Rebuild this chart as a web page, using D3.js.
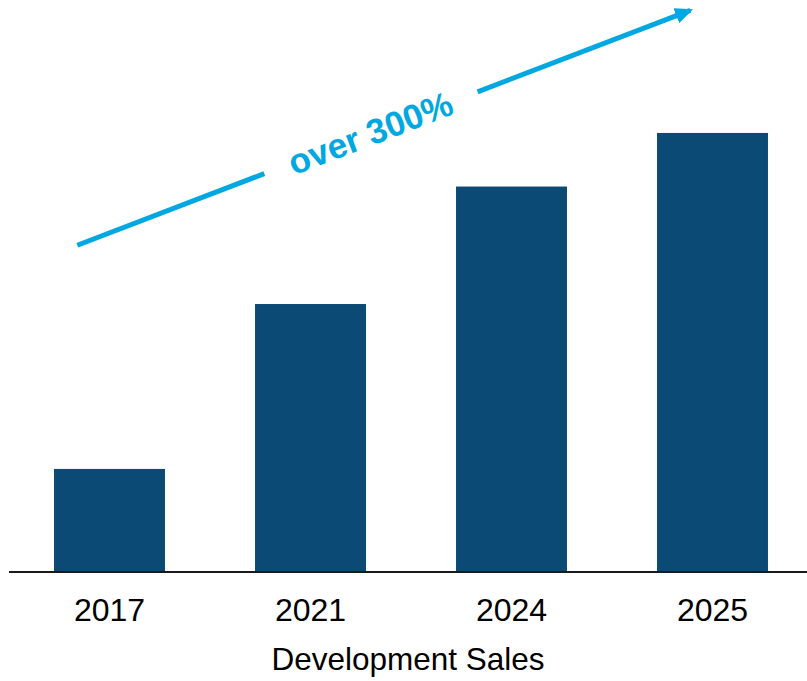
<!DOCTYPE html>
<html>
<head>
<meta charset="utf-8">
<script src="https://cdn.jsdelivr.net/npm/d3@7"></script>
<style>
  body { margin: 0; background: #fff; }
  svg { display: block; font-family: "Liberation Sans", Arial, sans-serif; }
</style>
</head>
<body>
<div id="chart"></div>
<script>
// Data (relative to 2017 = 1)
const years = ["2017", "2021", "2024", "2025"];
const sales = [1.0, 2.6, 3.74, 4.26];
const axisTitle = "Development Sales";
const growthLabel = "over 300%";

const width = 807, height = 681;
const baseY = 572;

const svg = d3.select("#chart")
	.append("svg")
	.attr("width", width)
	.attr("height", height);

// Scales
const x = d3.scaleBand()
	.domain(years)
	.range([9, 813])
	.paddingInner(0.448)
	.paddingOuter(0.224);

const y = d3.scaleLinear()
	.domain([0, 5.55])
	.range([baseY, 0]);

// Bars
svg.selectAll(".bar")
	.data(years.map((d, i) => ({ year: d, value: sales[i] })))
	.enter()
	.append("rect")
	.attr("class", "bar")
	.attr("x", d => x(d.year))
	.attr("y", d => y(d.value))
	.attr("width", x.bandwidth())
	.attr("height", d => y(0) - y(d.value))
	.attr("fill", "#0B4A74");

// X axis
const xAxis = svg.append("g")
	.attr("transform", `translate(0,${baseY})`)
	.call(d3.axisBottom(x).tickSize(0).tickPadding(0));

xAxis.select(".domain")
	.attr("d", `M9,0H${width}`)
	.attr("stroke", "#1a1a1a")
	.attr("stroke-width", 2);

xAxis.selectAll("text")
	.attr("y", 49)
	.attr("dy", null)
	.style("font-size", "32px")
	.style("font-family", "'Liberation Sans', Arial, sans-serif")
	.attr("fill", "#000");

svg.append("text")
	.attr("x", (9 + width) / 2)
	.attr("y", 670)
	.attr("text-anchor", "middle")
	.style("font-size", "31.5px")
	.attr("fill", "#000")
	.text(axisTitle);

// Growth arrow, anchored to the first and last bars
const arrowColor = "#00A8E1";
const p0 = [x("2017") + 0.21 * x.bandwidth(), y(3.17)];
const p1 = [x("2025") + 0.3 * x.bandwidth(), y(5.45)];
const at = t => [p0[0] + t * (p1[0] - p0[0]), p0[1] + t * (p1[1] - p0[1])];
const angle = Math.atan2(p1[1] - p0[1], p1[0] - p0[0]) * 180 / Math.PI;

svg.append("defs").append("marker")
	.attr("id", "head")
	.attr("markerUnits", "userSpaceOnUse")
	.attr("viewBox", "0 0 18 16")
	.attr("refX", 15)
	.attr("refY", 8)
	.attr("markerWidth", 18)
	.attr("markerHeight", 16)
	.attr("orient", "auto")
	.append("path")
	.attr("d", "M0,0L18,8L0,16Z")
	.attr("fill", arrowColor);

const a1 = at(0.305), a2 = at(0.653);
svg.append("line")
	.attr("x1", p0[0]).attr("y1", p0[1])
	.attr("x2", a1[0]).attr("y2", a1[1])
	.attr("stroke", arrowColor)
	.attr("stroke-width", 5);

svg.append("line")
	.attr("x1", a2[0]).attr("y1", a2[1])
	.attr("x2", p1[0]).attr("y2", p1[1])
	.attr("stroke", arrowColor)
	.attr("stroke-width", 5)
	.attr("marker-end", "url(#head)");

const mid = at(0.478);
svg.append("text")
	.attr("transform", `translate(${mid[0]},${mid[1]}) rotate(${angle})`)
	.attr("text-anchor", "middle")
	.attr("dy", "0.35em")
	.style("font-size", "35px")
	.style("font-weight", "bold")
	.attr("fill", arrowColor)
	.text(growthLabel);
</script>
</body>
</html>
